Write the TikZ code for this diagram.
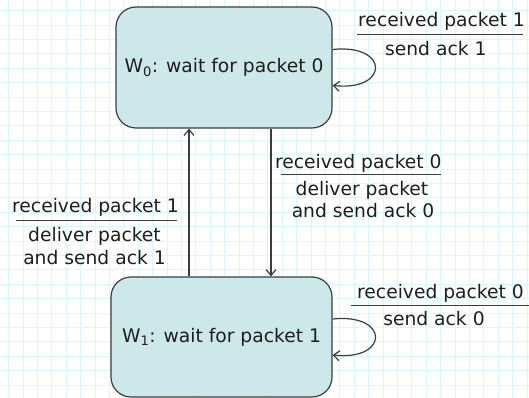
\documentclass[tikz,border=0pt]{standalone}
\usepackage{fontspec}
\setmainfont{DejaVu Sans}
\usetikzlibrary{arrows.meta}
\definecolor{gridc}{RGB}{212,250,255}
\definecolor{boxfill}{RGB}{204,232,232}
\definecolor{linec}{RGB}{60,60,60}
\definecolor{textc}{RGB}{30,30,30}
\begin{document}
\begin{tikzpicture}[x=1pt,y=-1pt,
  state/.style={draw=linec, line width=1.2pt, fill=boxfill, rounded corners=20pt, inner sep=0pt, text=textc, font=\fontsize{18.7}{22}\selectfont},
  lbl/.style={anchor=base, inner sep=0pt, text=textc, font=\fontsize{18.7}{22}\selectfont},
  rulestyle/.style={draw=linec, line width=1pt},
  arr/.style={draw=linec, line width=1.2pt, -{Straight Barb[length=6pt,width=10pt]}},
  gridline/.style={draw=gridc, line width=1.1pt}]
\useasboundingbox (0,0) rectangle (529,398);
\foreach \i in {0,...,36} \draw[gridline] (8.7+14.4*\i,0) -- (8.7+14.4*\i,398);
\foreach \i in {0,...,27} \draw[gridline] (0,10.7+14.4*\i) -- (529,10.7+14.4*\i);
% states
\node[state, minimum width=216pt, minimum height=121pt] (w0) at (224,67.5) {W\textsubscript{0}: wait for packet 0};
\node[state, minimum width=221pt, minimum height=120pt] (w1) at (221.5,337) {W\textsubscript{1}: wait for packet 1};
% self loops
\draw[arr] ([yshift=18pt]w0.east) .. controls +(57,-6) and +(57,6) .. ([yshift=-18pt]w0.east);
\draw[arr] ([yshift=18pt]w1.east) .. controls +(57,-6) and +(57,6) .. ([yshift=-18pt]w1.east);
% vertical transitions
\coordinate (ux) at (189,0);
\coordinate (dx) at (271,0);
\draw[arr] (w1.north -| ux) -- (w0.south -| ux);
\draw[arr] (w0.south -| dx) -- (w1.north -| dx);
% labels: top right
\node[lbl] (t0a) at (441.5,26.5) {received packet 1};
\draw[rulestyle] (357,35) -- (523,35);
\node[lbl] (t0b) at (435.8,55.5) {send ack 1};
% middle right
\node[lbl] (mra) at (358.3,168.3) {received packet 0};
\draw[rulestyle] (281,174.3) -- (441,174.3);
\node[lbl] (mrb) at (362,195) {deliver packet};
\node[lbl] (mrc) at (363,217.3) {and send ack 0};
% middle left
\node[lbl] (mla) at (95.5,212.7) {received packet 1};
\draw[rulestyle] (16,220.7) -- (176.7,220.7);
\node[lbl] (mlb) at (94.5,241.7) {deliver packet};
\node[lbl] (mlc) at (94.5,264) {and send ack 1};
% bottom right
\node[lbl] (b1a) at (440.5,298.3) {received packet 0};
\draw[rulestyle] (351,305) -- (529,305);
\node[lbl] (b1b) at (434,325) {send ack 0};
\end{tikzpicture}
\end{document}
